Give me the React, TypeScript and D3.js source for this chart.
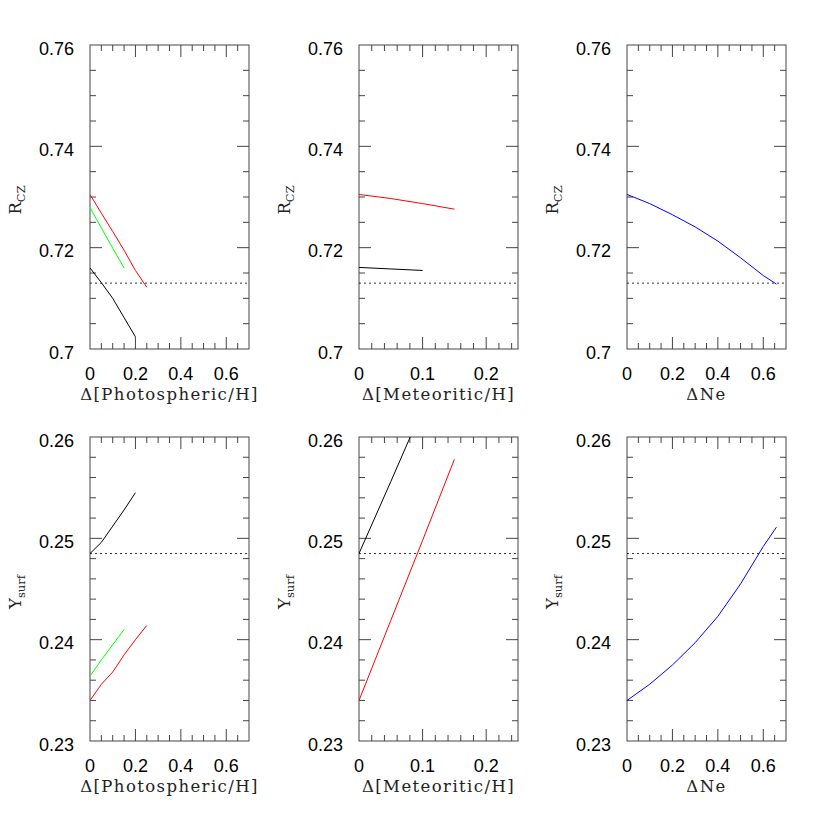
import React, { useEffect, useRef } from "react";
import * as d3 from "d3";

// reference values
const rczSun = 0.713;
const ysurfSun = 0.2485;

// top row: R_cz
const rczPhotoRedX = [0, 0.05, 0.1, 0.15, 0.2, 0.25];
const rczPhotoRedY = [0.7305, 0.7268, 0.7232, 0.7195, 0.7155, 0.7122];
const rczPhotoGreenX = [0, 0.05, 0.1, 0.15];
const rczPhotoGreenY = [0.7279, 0.7239, 0.7199, 0.716];
const rczPhotoBlackX = [0, 0.05, 0.1, 0.15, 0.2];
const rczPhotoBlackY = [0.716, 0.7131, 0.71, 0.7062, 0.7024];

const rczMeteoRedX = [0, 0.05, 0.1, 0.15];
const rczMeteoRedY = [0.7305, 0.7297, 0.7287, 0.7276];
const rczMeteoBlackX = [0, 0.05, 0.1];
const rczMeteoBlackY = [0.7161, 0.7158, 0.7155];

const rczNeX = [0, 0.1, 0.2, 0.3, 0.4, 0.5, 0.6, 0.658];
const rczNeY = [0.7305, 0.7287, 0.7265, 0.7241, 0.7213, 0.718, 0.7145, 0.7128];

// bottom row: Y_surf
const ysPhotoBlackX = [0, 0.05, 0.1, 0.15, 0.2];
const ysPhotoBlackY = [0.2485, 0.2496, 0.2512, 0.2528, 0.2545];
const ysPhotoGreenX = [0, 0.05, 0.1, 0.15];
const ysPhotoGreenY = [0.2364, 0.238, 0.2395, 0.241];
const ysPhotoRedX = [0, 0.05, 0.1, 0.15, 0.2, 0.25];
const ysPhotoRedY = [0.234, 0.2356, 0.2368, 0.2385, 0.24, 0.2414];

const ysMeteoBlackX = [0, 0.05, 0.1];
const ysMeteoBlackY = [0.2485, 0.2556, 0.2628];
const ysMeteoRedX = [0, 0.05, 0.1, 0.15];
const ysMeteoRedY = [0.234, 0.2419, 0.2498, 0.2578];

const ysNeX = [0, 0.1, 0.2, 0.3, 0.4, 0.5, 0.6, 0.658];
const ysNeY = [0.234, 0.2356, 0.2375, 0.2397, 0.2423, 0.2455, 0.2492, 0.2511];

// ticks
const xTicksWide = [0, 0.2, 0.4, 0.6];
const xLabelsWide = ["0", "0.2", "0.4", "0.6"];
const xTicksNarrow = [0, 0.1, 0.2];
const xLabelsNarrow = ["0", "0.1", "0.2"];
const yTicksRcz = [0.7, 0.72, 0.74, 0.76];
const yLabelsRcz = ["0.7", "0.72", "0.74", "0.76"];
const yTicksYs = [0.23, 0.24, 0.25, 0.26];
const yLabelsYs = ["0.23", "0.24", "0.25", "0.26"];

const xTitles = ["Δ[Photospheric/H]", "Δ[Meteoritic/H]", "ΔNe"];

const zip = (xs, ys) => xs.map((x, i) => [x, ys[i]]);

const App = () => {
  const ref = useRef(null);

  useEffect(() => {
    const svg = d3.select(ref.current);
    svg.selectAll("*").remove();

    const cols = [90, 359, 627];
    const pw = 159;
    const rows = [
      { top: 45, bottom: 349, domain: [0.7, 0.76], major: yTicksRcz, labels: yLabelsRcz, minorStep: 0.005, ref: rczSun, title: ["R", "CZ"] },
      { top: 437, bottom: 741, domain: [0.23, 0.26], major: yTicksYs, labels: yLabelsYs, minorStep: 0.002, ref: ysurfSun, title: ["Y", "surf"] },
    ];
    const colCfg = [
      { domain: [0, 0.7], major: xTicksWide, labels: xLabelsWide, minorStep: 0.05 },
      { domain: [0, 0.25], major: xTicksNarrow, labels: xLabelsNarrow, minorStep: 0.02 },
      { domain: [0, 0.7], major: xTicksWide, labels: xLabelsWide, minorStep: 0.05 },
    ];
    const series = [
      [
        [{ d: zip(rczPhotoRedX, rczPhotoRedY), c: "#ff0000" }, { d: zip(rczPhotoGreenX, rczPhotoGreenY), c: "#00ff00" }, { d: zip(rczPhotoBlackX, rczPhotoBlackY), c: "#000000" }],
        [{ d: zip(rczMeteoRedX, rczMeteoRedY), c: "#ff0000" }, { d: zip(rczMeteoBlackX, rczMeteoBlackY), c: "#000000" }],
        [{ d: zip(rczNeX, rczNeY), c: "#0000ff" }],
      ],
      [
        [{ d: zip(ysPhotoBlackX, ysPhotoBlackY), c: "#000000" }, { d: zip(ysPhotoGreenX, ysPhotoGreenY), c: "#00ff00" }, { d: zip(ysPhotoRedX, ysPhotoRedY), c: "#ff0000" }],
        [{ d: zip(ysMeteoBlackX, ysMeteoBlackY), c: "#000000" }, { d: zip(ysMeteoRedX, ysMeteoRedY), c: "#ff0000" }],
        [{ d: zip(ysNeX, ysNeY), c: "#0000ff" }],
      ],
    ];

    const defs = svg.append("defs");
    const axisColor = "#444";

    rows.forEach((r, ri) => {
      cols.forEach((left, ci) => {
        const c = colCfg[ci];
        const x = d3.scaleLinear().domain(c.domain).range([left, left + pw]);
        const y = d3.scaleLinear().domain(r.domain).range([r.bottom, r.top]);
        const g = svg.append("g");
        const id = `clip-${ri}-${ci}`;
        defs.append("clipPath").attr("id", id).append("rect")
          .attr("x", left).attr("y", r.top).attr("width", pw).attr("height", r.bottom - r.top);

        // ticks on all four sides, pointing inward
        const xMinor = d3.range(c.domain[0], c.domain[1] - 1e-9, c.minorStep).slice(1);
        const yMinor = d3.range(r.domain[0], r.domain[1] - 1e-9, r.minorStep).slice(1);
        xMinor.forEach((v) => {
          const len = c.major.some((m) => Math.abs(m - v) < 1e-9) ? 12 : 6;
          g.append("line").attr("x1", x(v)).attr("x2", x(v)).attr("y1", r.bottom).attr("y2", r.bottom - len).attr("stroke", axisColor);
          g.append("line").attr("x1", x(v)).attr("x2", x(v)).attr("y1", r.top).attr("y2", r.top + len).attr("stroke", axisColor);
        });
        yMinor.forEach((v) => {
          const len = r.major.some((m) => Math.abs(m - v) < 1e-9) ? 12 : 6;
          g.append("line").attr("x1", left).attr("x2", left + len).attr("y1", y(v)).attr("y2", y(v)).attr("stroke", axisColor);
          g.append("line").attr("x1", left + pw).attr("x2", left + pw - len).attr("y1", y(v)).attr("y2", y(v)).attr("stroke", axisColor);
        });

        g.append("rect").attr("x", left).attr("y", r.top).attr("width", pw).attr("height", r.bottom - r.top)
          .attr("fill", "none").attr("stroke", axisColor).attr("stroke-width", 1);

        // tick labels
        c.major.forEach((v, i) => {
          g.append("text").attr("x", x(v)).attr("y", r.bottom + 31).attr("text-anchor", "middle")
            .attr("font-family", "Liberation Sans, Arial, sans-serif").attr("font-size", 18).text(c.labels[i]);
        });
        r.major.forEach((v, i) => {
          g.append("text").attr("x", left - 16).attr("y", y(v) + 9.5).attr("text-anchor", "end")
            .attr("font-family", "Liberation Sans, Arial, sans-serif").attr("font-size", 18).text(r.labels[i]);
        });

        // axis titles
        g.append("text").attr("x", left + pw / 2).attr("y", r.bottom + 51).attr("text-anchor", "middle")
          .attr("font-family", "DejaVu Serif, serif").attr("font-size", 16.5).attr("letter-spacing", 1.4)
          .attr("fill", "#222").text(xTitles[ci]);
        const yt = g.append("text")
          .attr("transform", `translate(${left - 69},${(r.top + r.bottom) / 2 + 3}) rotate(-90)`)
          .attr("text-anchor", "middle").attr("font-family", "DejaVu Serif, serif").attr("font-size", 16.5).attr("fill", "#222");
        yt.append("tspan").text(r.title[0]);
        yt.append("tspan").attr("dy", "0.35em").attr("font-size", 11.5).text(r.title[1]);

        // reference dotted line
        g.append("line").attr("x1", left).attr("x2", left + pw).attr("y1", y(r.ref)).attr("y2", y(r.ref))
          .attr("stroke", "#000").attr("stroke-width", 0.8).attr("stroke-dasharray", "2,3");

        const line = d3.line().x((d) => x(d[0])).y((d) => y(d[1]));
        const lg = g.append("g").attr("clip-path", `url(#${id})`);
        series[ri][ci].forEach((s) => {
          lg.append("path").attr("d", line(s.d)).attr("fill", "none").attr("stroke", s.c).attr("stroke-width", 1);
        });
      });
    });
  }, []);

  return (
    <svg ref={ref} width={830} height={830} style={{ position: "absolute", left: 0, top: 0, background: "#fff" }}></svg>
  );
};

export default App;
